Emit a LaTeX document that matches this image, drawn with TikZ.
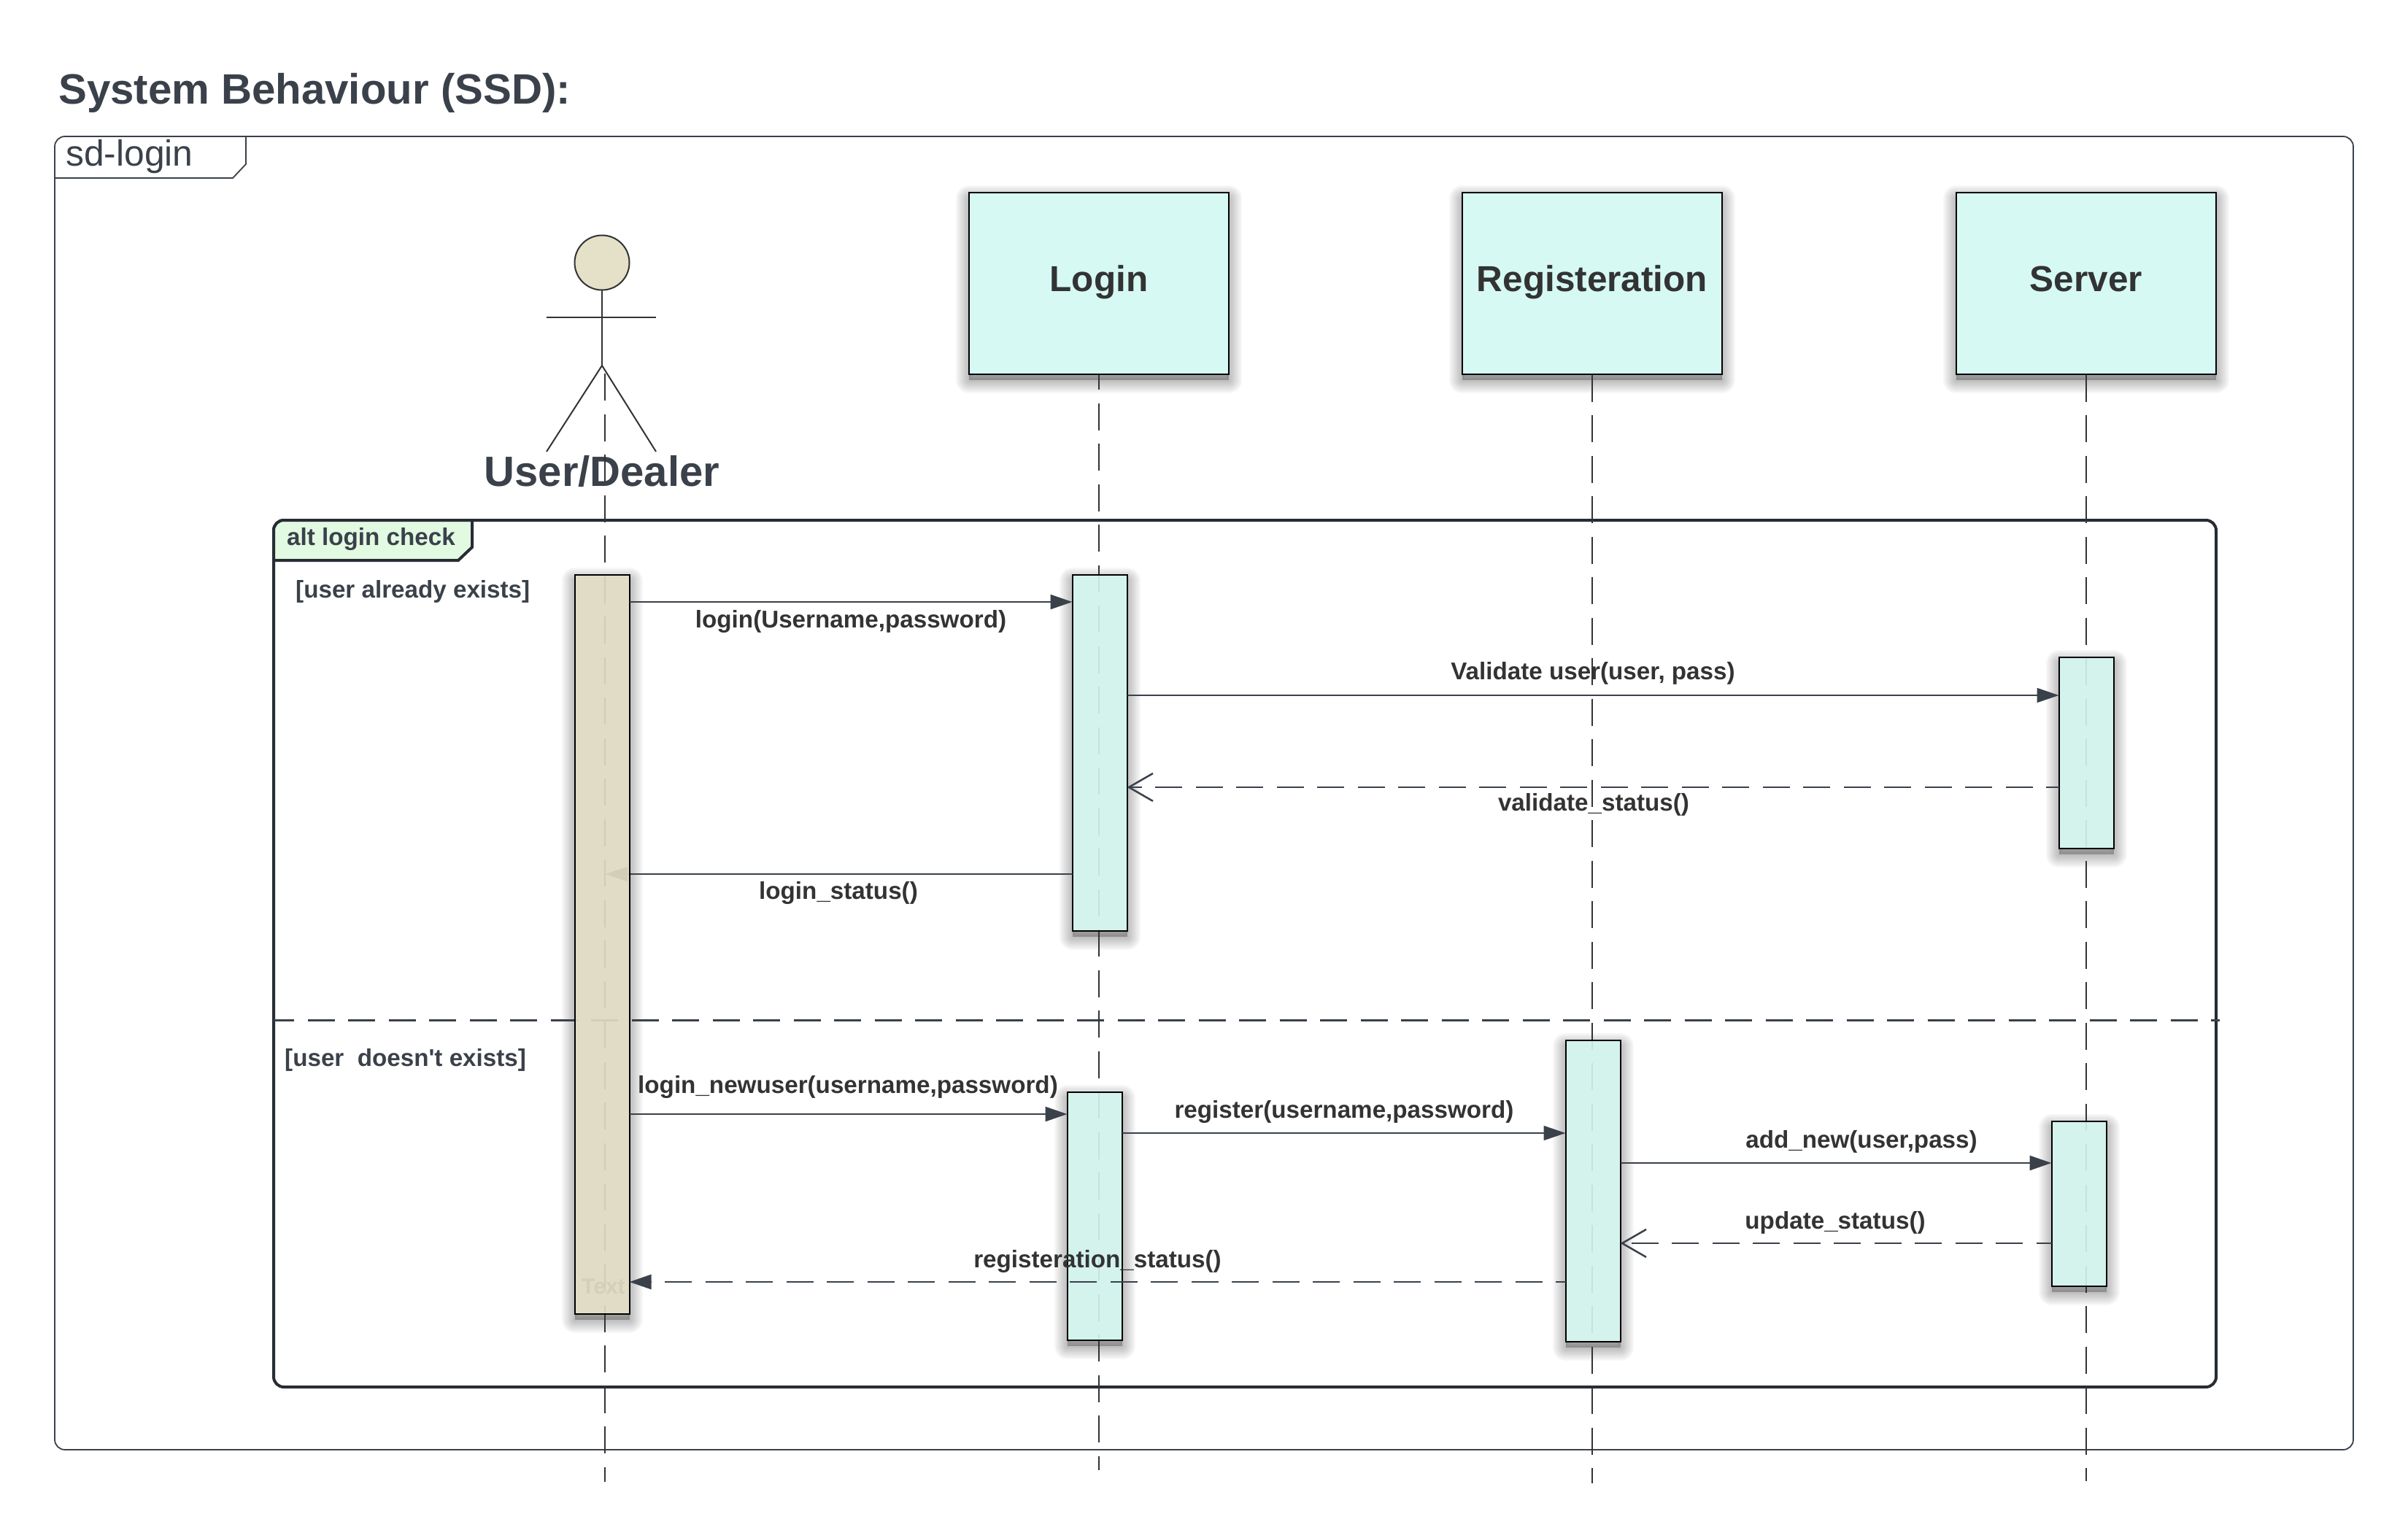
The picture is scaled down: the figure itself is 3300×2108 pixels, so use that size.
\documentclass[tikz,border=0pt]{standalone}
\usepackage{fontspec}
\setmainfont{Liberation Sans}
\usetikzlibrary{arrows.meta}
\definecolor{inkdark}{HTML}{3A414A}
\definecolor{inktext}{HTML}{333333}
\definecolor{framedark}{HTML}{282C33}
\definecolor{headfill}{HTML}{D6F9F3}
\definecolor{barfill}{HTML}{D0F2EB}
\definecolor{userfill}{HTML}{DFDAC1}
\definecolor{facefill}{HTML}{E5E0C8}
\definecolor{tabfill}{HTML}{E2F9E2}
\pgfdeclarelayer{shade}
\pgfsetlayers{shade,main}
\tikzset{
headbox/.style={rectangle, draw=black, line width=2pt, fill=headfill, text=inktext, inner sep=0pt, outer sep=0pt, minimum width=356pt, minimum height=249pt, text height=34pt, text depth=12pt, font=\bfseries\fontsize{49.5}{58}\selectfont},
barbox/.style={rectangle, draw=black, line width=2pt, fill=barfill, fill opacity=.92, inner sep=0pt, outer sep=0pt, minimum width=75pt},
userbar/.style={barbox, fill=userfill},
lifeline/.style={draw=inktext, line width=2.5pt, dash pattern=on 37pt off 18.5pt},
msg/.style={draw=inkdark, line width=2.5pt, -{Triangle[length=30pt,width=20pt]}},
thinmsg/.style={msg, line width=1.6pt},
reply/.style={draw=inkdark, line width=2.5pt, dash pattern=on 37pt off 18.5pt, -{Triangle[length=30pt,width=20pt]}},
openreply/.style={draw=inkdark, line width=2.5pt, dash pattern=on 37pt off 18.5pt, -{Straight Barb[length=33pt,width=38pt,line width=2.5pt]}},
msglabel/.style={anchor=base, inner sep=0pt, text=inktext, font=\bfseries\fontsize{33.2}{40}\selectfont},
guard/.style={anchor=base west, inner sep=0pt, text=inkdark, font=\bfseries\fontsize{33.2}{40}\selectfont},
actorline/.style={draw=inktext, line width=2pt},
}
\newcommand{\softshade}[1]{
\begin{pgfonlayer}{shade}
\foreach \s in {4,8,...,36}{
\draw[black, opacity=.03, line width=\s pt, line join=round, fill=black] ([yshift=-8pt]#1.south west) rectangle ([yshift=-8pt]#1.north east);
}
\fill[white] (#1.south west) rectangle (#1.north east);
\end{pgfonlayer}
}
\begin{document}
\begin{tikzpicture}[x=1pt,y=-1pt]
\useasboundingbox (0,0) rectangle (3300,2108);
\node[anchor=base west, inner sep=0pt, text=inkdark, font=\bfseries\fontsize{58.2}{70}\selectfont] (title) at (80,143){System Behaviour (SSD):};
\node[rectangle, draw=inkdark, line width=1.8pt, rounded corners=14pt, inner sep=0pt, outer sep=0pt, minimum width=3150pt, minimum height=1800pt] (sdframe) at (1650,1087){};
\draw[draw=inkdark, line width=1.8pt] (sdframe.west |- 0,244) -- (319,244) -- (337,225) -- (337,187);
\node[anchor=base west, inner sep=0pt, text=inkdark, font=\fontsize{49.8}{60}\selectfont] (sdlabel) at (90,228){sd-login};
\node[rectangle, draw=framedark, line width=4pt, rounded corners=14pt, inner sep=0pt, outer sep=0pt, minimum width=2662pt, minimum height=1188pt] (altframe) at (1706,1307){};
\draw[draw=framedark, line width=4pt, fill=tabfill] (375,768) [rounded corners=14pt] -- (375,713) [sharp corners] -- (647,713) -- (647,750) -- (628,768) -- cycle;
\node[anchor=base west, inner sep=0pt, text=inkdark, font=\bfseries\fontsize{33.2}{40}\selectfont] (altlabel) at (393,747){alt login check};
\node[guard] (guard0) at (405,819){[user already exists]};
\node[guard] (guard1) at (390,1461){[user\ \ doesn\textquotesingle t exists]};
\draw[draw=inkdark, line width=3pt, dash pattern=on 37pt off 18.5pt, dash phase=9pt] (altframe.west |- 0,1398) -- (3042,1398) coordinate (altdiv);
\node[circle, draw=inktext, line width=2pt, fill=facefill, inner sep=0pt, outer sep=0pt, minimum size=75pt] (userface) at (825,360){};
\coordinate (userhip) at (825,501);
\coordinate (userarml) at (749,435);
\coordinate (userarmr) at (899,435);
\coordinate (userfootl) at (749,619);
\coordinate (userfootr) at (899,619);
\draw[actorline] (userface) -- (userhip);
\draw[actorline] (userarml) -- (userarmr);
\draw[actorline] (userhip) -- (userfootl);
\draw[actorline] (userhip) -- (userfootr);
\node[anchor=base, inner sep=0pt, text=inkdark, font=\bfseries\fontsize{58}{70}\selectfont] (userlabel) at (825,666){User/Dealer};
\node[headbox] (login) at (1506,388.5){Login};
\node[headbox] (register) at (2182,388.5){Registeration};
\node[headbox] (server) at (2859,388.5){Server};
\node[msglabel] (m0) at (1166,860){login(Username,password)};
\node[msglabel] (m1) at (2183,931){Validate user(user, pass)};
\node[msglabel] (m2) at (2184,1111){validate\_status()};
\node[msglabel] (m3) at (1149,1232){login\_status()};
\node[msglabel] (m4) at (1162,1498){login\_newuser(username,password)};
\node[msglabel] (m5) at (1842,1532){register(username,password)};
\node[msglabel] (m6) at (2551,1573){add\_new(user,pass)};
\node[msglabel] (m7) at (2515,1684){update\_status()};
\coordinate (userend) at (829,2031);
\coordinate (userstart) at (829,512);
\coordinate (loginend) at (login.south |- 0,2015);
\coordinate (registerend) at (register.south |- 0,2033);
\coordinate (serverend) at (server.south |- 0,2030);
\draw[lifeline] (userstart) -- (userend);
\draw[lifeline, dash phase=16.5pt] (login) ++(0,125) -- (loginend);
\draw[lifeline] (register) ++(0,125) -- (registerend);
\draw[lifeline] (server) ++(0,125) -- (serverend);
\node[barbox, minimum height=488pt] (loginbar0) at (1507,1032){};
\node[barbox, minimum height=262pt] (serverbar0) at (2859,1032){};
\node[barbox, minimum height=340pt] (loginbar1) at (1500,1667){};
\node[barbox, minimum height=413pt] (registerbar0) at (2183,1632){};
\node[barbox, minimum height=226pt] (serverbar1) at (2849,1650){};
\coordinate (useraim) at (830,1198);
\node[anchor=center, minimum width=75pt, minimum height=1013pt, inner sep=0pt, outer sep=0pt] (usergeom) at (825,1294){};
\draw[msg] (loginbar0.west |- useraim) -- (useraim);
\node[userbar, minimum height=1013pt] (userbar0) at (825,1294){};
\softshade{login}
\softshade{register}
\softshade{server}
\softshade{usergeom}
\softshade{loginbar0}
\softshade{serverbar0}
\softshade{loginbar1}
\softshade{registerbar0}
\softshade{serverbar1}
\draw[msg] (userbar0.east |- 0,825) -- (loginbar0.west |- 0,825);
\draw[thinmsg] (loginbar0.east |- 0,953) -- (serverbar0.west |- 0,953);
\draw[openreply, dash phase=19.5pt] (serverbar0.west |- 0,1079) -- (loginbar0.east |- 0,1079);
\draw[msg] (userbar0.east |- 0,1527) -- (loginbar1.west |- 0,1527);
\draw[thinmsg] (loginbar1.east |- 0,1553) -- (registerbar0.west |- 0,1553);
\draw[msg] (registerbar0.east |- 0,1594) -- (serverbar1.west |- 0,1594);
\draw[openreply, dash phase=16pt] (serverbar1.west |- 0,1704) -- (registerbar0.east |- 0,1704);
\draw[reply, dash phase=23.5pt] (registerbar0.west |- 0,1757) -- (userbar0.east |- 0,1757);
\node[msglabel] (m8) at (1504,1737){registeration\_status()};
\node[anchor=base west, inner sep=0pt, text=userfill!95!black, font=\bfseries\fontsize{30}{36}\selectfont] (usertext) at (797,1773){Text};
\end{tikzpicture}
\end{document}
